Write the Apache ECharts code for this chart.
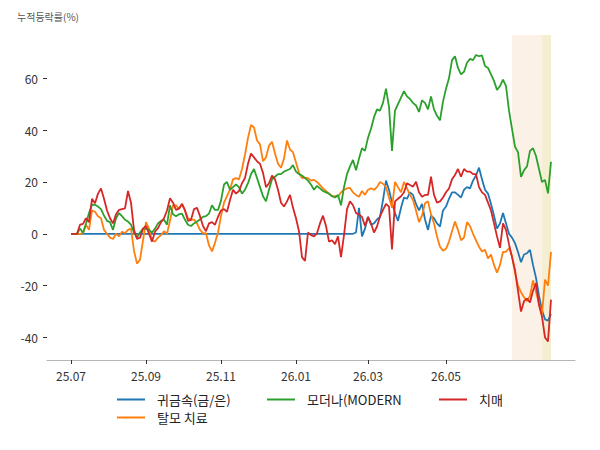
<!DOCTYPE html>
<html><head><meta charset="utf-8">
<script src="https://cdn.jsdelivr.net/npm/echarts@6/dist/echarts.min.js"></script>
<style>html,body{margin:0;padding:0;background:#fff}#c{width:600px;height:450px}</style>
</head><body><div id="c"></div>
<script>
const seriesNames = ['귀금속(금/은)', '탈모 치료', '모더나(MODERN', '치매'];
const seriesColors = ['#1f77b4', '#ff7f0e', '#2ca02c', '#d62728'];
const tickPositions = [0, 25, 50, 75, 99, 125];
const tickLabels = ['25.07', '25.09', '25.11', '26.01', '26.03', '26.05'];
const yTicks = [-40, -20, 0, 20, 40, 60];
const shadeSpans = [[147, 157], [157, 160]];

const gold = [
0,0,0,0,0,0,0,0,0,0, 0,0,0,0,0,0,0,0,0,0,
0,0,0,0,0,0,0,0,0,0, 0,0,0,0,0,0,0,0,0,0,
0,0,0,0,0,0,0,0,0,0, 0,0,0,0,0,0,0,0,0,0,
0,0,0,0,0,0,0,0,0,0, 0,0,0,0,0,0,0,0,0,0,
0,0,0,0,0,0,0,0,0,0, 0,0,0,0,0,
0.5,10,-1,2,6.5,3.5,4,5.5,6.5,13,
20.5,17,12,8,5,10,14,13.5,16,15,
11.5,9,11.5,5.5,1.5,7,6,4,2.8,9,
10.5,13.5,16,16,15,14,17,18,17.5,20.5,
22.5,25.5,21,17,15.5,11.5,7,2,4,8,
4,0,-1.5,-3.6,-7,-11,-8,-7.5,-6.2,-12,
-17,-24,-29.5,-33,-33.5,-31
];

const hairLoss = [
0,0,0,0,0.3,3.5,1.5,9,8.5,6.8,
6,1.5,0,-1.5,-2,0,-1,0.8,0.3,1.5,
2,-6.5,-11.5,-10,-2.5,4.5,2,-2.5,-3,-1.5,
-0.5,1,0,5,11,11,9.5,11.5,9,6,
5.5,5.5,4,1.5,0.3,0.2,-4.5,-6.8,-3.5,0.5,
6.8,12,14.5,17,21,21.5,21,25,30.5,37,
42,41,36,34.5,28,29.5,34,35.5,31,27,
25.5,29,36,32.5,31.5,27.5,23.5,21.5,21.7,21.5,
20.5,20.8,20,18.8,17.5,16.5,15.5,14.5,14.5,14.3,
16,17,17.5,17.7,16,15,14.3,16.5,15,17,
17.5,17,18,20,19.3,18,14,10,20,18,
16,20,17.5,15,13,9,4.5,7,11.8,12.5,
7.5,4,-1,-5,-6.5,-5.8,-3,1,4.7,1.5,
-2.5,-1.5,4.5,3,0,-2.5,-5,-6.8,-6.2,-9.5,
-8,-12,-15,-12,-7,-7,-5.5,-8.5,-15,-20,
-22.5,-24.5,-26,-24,-18,-22.5,-27,-31,-17.7,-20,
-7
];

const moderna = [
0,0,0,2,0.3,4,8,11.2,11.2,10.5,
9.5,7,5,4.5,1.5,6,8,6.8,5.4,4.7,
3.5,0.5,-1.5,0.5,2,2,1.5,0.5,2,4,
5,5.4,3.5,11,7.5,6.8,7.5,7.8,5.4,3.5,
3,4,4.7,5.5,6.5,6.8,7.8,11,9.2,9.2,
12.8,19,20,17,18,19,18,15.5,17,19.5,
23,25,21.5,18,14.5,12.5,17,21,22,23,
23,24,24.5,25,26.5,24,23,22.5,21.5,20.5,
19,17,18.5,17.5,16.5,16,15.5,14.5,14,15,
11,18,23,26,28.5,24.5,29,33,32,37,
40.5,45,48,47.5,50.5,56,49,32,47.5,50,
52.5,55,53,52,50.5,49.5,47,51.5,50.5,48,
53,48,45.5,43.8,51,56,60,67,68.5,64,
61.5,62.5,66,67.5,67,69,68.5,68.8,64.7,64,
61.5,59,55.5,57,59.5,57,47.5,40.5,33.6,31.5,
22,24.5,26,32,33,30,25,20,20.8,15.6,
27.8
];

const dementia = [
0,0,0,3.5,3.8,6,4.5,13.5,11.8,15.5,
17.5,13.5,9,6,4,7.5,9.2,9.5,9.8,16.5,
12,1.5,-2,-1.5,2,3,0,-3,0.8,2.2,
4.5,6,9,13.7,12,9.2,9.8,11.5,9,5,
5.4,9.5,10,6.8,3,1,4,4.5,3.5,6.5,
9,9.5,8.5,13,17,15.5,16.5,19.5,21.5,27,
31,29.5,28,27,23.5,18,19.5,22.5,21,17,
12,10.5,12.5,15,10,6,1,-9,-10.5,0.5,
-0.5,-1,0.2,4,7,3,-3,-2.5,-4,-1,
-9,-0.5,9.5,12.5,11,8,7.5,6.5,3,6.5,
4,0.5,2.8,6.7,9.2,11.5,10.5,-6,12.5,13.5,
14.5,16,19.5,18.8,18.2,20.1,16,14.3,15,15,
22,15,12,12.5,14,16,17.5,21,22.7,25,
22,25,24,24,23,23,18,16,15,12,
9,4,-1,-5.4,4,1.5,-4,-9,-14,-22,
-30,-26,-25,-26.5,-22,-19,-27.5,-32,-40,-41.5,
-25.4
];

const allValues = [gold, hairLoss, moderna, dementia];
const FONT = "'Noto Sans CJK KR', 'Noto Sans', sans-serif";

const chart = echarts.init(document.getElementById('c'), null, {renderer: 'svg'});

const series = allValues.map((vals, k) => ({
  name: seriesNames[k],
  type: 'line',
  data: vals.map((v, i) => [i, v]),
  showSymbol: false,
  symbol: 'none',
  lineStyle: {width: 1.8, color: seriesColors[k]},
  itemStyle: {color: seriesColors[k]},
  z: 3,
  animation: false
}));

series.unshift({
  name: 'shade',
  type: 'line',
  data: [],
  z: 1,
  silent: true,
  markArea: {
    silent: true,
    data: [
      [{xAxis: shadeSpans[0][0], itemStyle: {color: '#fbf1e7'}}, {xAxis: shadeSpans[0][1]}],
      [{xAxis: shadeSpans[1][0], itemStyle: {color: '#f4efd3'}}, {xAxis: shadeSpans[1][1]}]
    ]
  }
});

const legendPos = [[117, 393], [117, 411], [267, 393], [439, 393]];
const legends = seriesNames.map((n, k) => ({
  data: [n],
  left: legendPos[k][0],
  top: legendPos[k][1],
  padding: 0,
  icon: 'rect',
  itemWidth: 28,
  itemHeight: 2,
  textStyle: {fontFamily: FONT, fontSize: 13, color: '#222', padding: [0, 0, 0, 7]},
  selectedMode: false
}));

chart.setOption({
  animation: false,
  backgroundColor: '#fff',
  title: {
    text: '누적등락률(%)',
    left: 12, top: 6,
    textStyle: {fontFamily: FONT, fontSize: 10, fontWeight: 'normal', color: '#555'}
  },
  legend: legends,
  grid: {left: 47, right: 25, top: 35, bottom: 90},
  xAxis: {
    type: 'value',
    min: -8, max: 168,
    splitLine: {show: false},
    axisLine: {show: true, onZero: false, lineStyle: {color: '#b5b5b5', width: 1}},
    axisTick: {show: true, customValues: tickPositions, length: 4, lineStyle: {color: '#333'}},
    axisLabel: {
      customValues: tickPositions,
      margin: 9,
      fontFamily: FONT, fontSize: 12, color: '#333',
      formatter: v => tickLabels[tickPositions.indexOf(v)] || ''
    }
  },
  yAxis: {
    type: 'value',
    min: -48.7, max: 76.7,
    splitLine: {show: false},
    axisLine: {show: false, onZero: false},
    axisTick: {show: true, customValues: yTicks, length: 4, lineStyle: {color: '#333'}},
    axisLabel: {
      customValues: yTicks,
      margin: 9,
      fontFamily: FONT, fontSize: 12, color: '#333'
    }
  },
  series: series
});
</script>
</body></html>
